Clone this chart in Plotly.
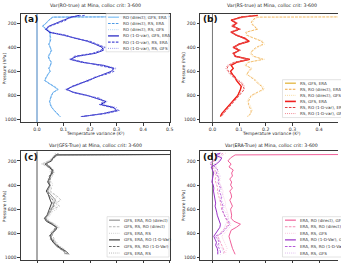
import plotly.graph_objects as go

W, H = 341, 263

# Pressure levels (hPa)
P = [135, 150, 175, 200, 225, 250, 275, 300, 325, 350, 375, 400, 425, 450, 475, 500,
     525, 550, 575, 600, 625, 650, 675, 700, 725, 750, 775, 800, 825, 850, 875, 900,
     925, 950, 975]

# ---- Panel (a): Var(RO-true)
a_dir_gfs_era = [1.4, 0.058, 0.044, 0.033, 0.022, 0.036, 0.049, 0.05, 0.05, 0.049, 0.046, 0.051, 0.053, 0.05, 0.044, 0.047, 0.053, 0.051, 0.046, 0.049, 0.041, 0.035, 0.03, 0.046, 0.064, 0.078, 0.061, 0.054, 0.051, 0.048, 0.051, 0.055, 0.065, 0.075, 0.086]
a_dir_rs_era = [1.5, 0.06, 0.045, 0.035, 0.02, 0.035, 0.05, 0.048, 0.052, 0.05, 0.044, 0.05, 0.055, 0.049, 0.042, 0.046, 0.055, 0.05, 0.044, 0.05, 0.04, 0.034, 0.028, 0.045, 0.066, 0.08, 0.06, 0.055, 0.05, 0.047, 0.05, 0.056, 0.066, 0.077, 0.088]
a_dir_rs_gfs = [1.3, 0.062, 0.046, 0.036, 0.024, 0.034, 0.051, 0.047, 0.053, 0.051, 0.045, 0.049, 0.056, 0.048, 0.043, 0.045, 0.054, 0.049, 0.045, 0.051, 0.039, 0.036, 0.029, 0.044, 0.065, 0.079, 0.059, 0.056, 0.049, 0.046, 0.052, 0.057, 0.064, 0.076, 0.087]
a_1dv_gfs_era = [0.16, 0.13, 0.1, 0.07, 0.045, 0.035, 0.045, 0.1, 0.15, 0.19, 0.22, 0.245, 0.25, 0.22, 0.15, 0.125, 0.17, 0.25, 0.29, 0.28, 0.25, 0.22, 0.19, 0.165, 0.135, 0.11, 0.14, 0.19, 0.23, 0.26, 0.24, 0.29, 0.3, 0.25, 0.17]
a_1dv_rs_era = [0.18, 0.12, 0.11, 0.08, 0.05, 0.03, 0.05, 0.11, 0.14, 0.2, 0.23, 0.255, 0.24, 0.21, 0.14, 0.13, 0.18, 0.24, 0.285, 0.29, 0.26, 0.215, 0.2, 0.16, 0.13, 0.115, 0.135, 0.185, 0.24, 0.25, 0.235, 0.28, 0.31, 0.26, 0.165]
a_1dv_rs_gfs = [0.15, 0.14, 0.095, 0.075, 0.04, 0.04, 0.055, 0.095, 0.155, 0.185, 0.225, 0.26, 0.245, 0.215, 0.16, 0.12, 0.165, 0.255, 0.3, 0.275, 0.245, 0.225, 0.185, 0.17, 0.14, 0.105, 0.145, 0.195, 0.225, 0.265, 0.25, 0.3, 0.295, 0.245, 0.175]

# ---- Panel (b): Var(RS-true)
b_gfs_era = [0.17, 0.11, 0.07, 0.09, 0.077, 0.1, 0.07, 0.09, 0.12, 0.138, 0.1, 0.078, 0.1, 0.08, 0.085, 0.14, 0.09, 0.07, 0.078, 0.068, 0.075, 0.085, 0.09, 0.1, 0.108, 0.105, 0.1, 0.095, 0.085, 0.075, 0.065, 0.055, 0.045, 0.035, 0.03]
b_dir_rs_era = [2.5, 0.165, 0.15, 0.145, 0.155, 0.17, 0.125, 0.13, 0.155, 0.185, 0.19, 0.165, 0.15, 0.145, 0.155, 0.19, 0.135, 0.125, 0.145, 0.135, 0.13, 0.145, 0.16, 0.17, 0.185, 0.19, 0.165, 0.145, 0.14, 0.135, 0.135, 0.14, 0.145, 0.145, 0.13]
b_dir_rs_gfs = [3.0, 0.17, 0.155, 0.15, 0.16, 0.165, 0.13, 0.125, 0.16, 0.19, 0.195, 0.17, 0.155, 0.14, 0.15, 0.195, 0.13, 0.12, 0.15, 0.14, 0.125, 0.15, 0.165, 0.175, 0.19, 0.195, 0.17, 0.15, 0.135, 0.13, 0.14, 0.145, 0.15, 0.14, 0.135]
b_1dv_rs_era = [0.16, 0.1, 0.08, 0.085, 0.07, 0.105, 0.075, 0.085, 0.125, 0.13, 0.095, 0.085, 0.105, 0.075, 0.09, 0.13, 0.08, 0.06, 0.055, 0.06, 0.07, 0.08, 0.095, 0.11, 0.115, 0.12, 0.11, 0.1, 0.09, 0.08, 0.07, 0.06, 0.05, 0.04, 0.032]
b_1dv_rs_gfs = [0.15, 0.12, 0.075, 0.095, 0.08, 0.095, 0.065, 0.095, 0.115, 0.13, 0.105, 0.075, 0.095, 0.085, 0.08, 0.135, 0.085, 0.055, 0.05, 0.058, 0.065, 0.078, 0.1, 0.115, 0.12, 0.115, 0.105, 0.1, 0.092, 0.078, 0.068, 0.058, 0.05, 0.04, 0.035]

# ---- Panel (c): Var(GFS-True)
c_dir_era_ro = [2.0, 0.075, 0.06, 0.05, 0.035, 0.05, 0.055, 0.06, 0.05, 0.048, 0.042, 0.05, 0.045, 0.04, 0.05, 0.06, 0.07, 0.065, 0.06, 0.055, 0.05, 0.04, 0.032, 0.04, 0.06, 0.07, 0.065, 0.06, 0.055, 0.05, 0.065, 0.07, 0.085, 0.1, 0.11]
c_dir_rs_ro = [1.8, 0.08, 0.065, 0.04, 0.02, 0.04, 0.06, 0.065, 0.055, 0.05, 0.05, 0.045, 0.055, 0.05, 0.065, 0.08, 0.09, 0.07, 0.085, 0.06, 0.05, 0.045, 0.035, 0.045, 0.065, 0.08, 0.06, 0.05, 0.06, 0.065, 0.07, 0.08, 0.09, 0.1, 0.105]
c_dir_era_rs = [1.6, 0.07, 0.055, 0.045, 0.015, 0.05, 0.065, 0.05, 0.06, 0.04, 0.055, 0.06, 0.05, 0.045, 0.06, 0.075, 0.065, 0.08, 0.07, 0.075, 0.055, 0.05, 0.04, 0.05, 0.07, 0.085, 0.07, 0.055, 0.05, 0.06, 0.075, 0.08, 0.095, 0.1, 0.115]
c_1dv_era_ro = [2.0, 0.07, 0.06, 0.055, 0.03, 0.045, 0.058, 0.055, 0.05, 0.045, 0.04, 0.048, 0.04, 0.035, 0.042, 0.045, 0.05, 0.055, 0.05, 0.048, 0.042, 0.038, 0.028, 0.035, 0.055, 0.075, 0.07, 0.055, 0.05, 0.055, 0.06, 0.075, 0.09, 0.11, 0.12]
c_1dv_rs_ro = [0.08, 0.075, 0.065, 0.05, 0.035, 0.05, 0.06, 0.06, 0.045, 0.05, 0.045, 0.05, 0.04, 0.04, 0.045, 0.05, 0.06, 0.06, 0.065, 0.05, 0.045, 0.04, 0.03, 0.04, 0.06, 0.07, 0.065, 0.055, 0.045, 0.06, 0.065, 0.07, 0.085, 0.105, 0.115]
c_1dv_era_rs = [0.07, 0.065, 0.055, 0.05, 0.03, 0.045, 0.05, 0.05, 0.055, 0.045, 0.04, 0.045, 0.045, 0.038, 0.04, 0.055, 0.065, 0.06, 0.055, 0.05, 0.04, 0.04, 0.035, 0.045, 0.065, 0.075, 0.06, 0.06, 0.05, 0.06, 0.07, 0.08, 0.1, 0.11, 0.12]

# ---- Panel (d): Var(ERA-True)
d_dir_ro_gfs = [2.0, 0.085, 0.068, 0.058, 0.07, 0.062, 0.078, 0.072, 0.075, 0.065, 0.072, 0.068, 0.075, 0.065, 0.07, 0.072, 0.065, 0.07, 0.075, 0.068, 0.07, 0.072, 0.07, 0.08, 0.105, 0.09, 0.07, 0.065, 0.062, 0.065, 0.068, 0.07, 0.075, 0.08, 0.085]
d_dir_rs_ro = [0.04, 0.03, 0.02, 0.005, -0.005, 0.0, 0.01, 0.01, 0.015, 0.01, 0.012, 0.015, 0.02, 0.018, 0.022, 0.025, 0.028, 0.03, 0.032, 0.035, 0.04, 0.045, 0.05, 0.055, 0.06, 0.05, 0.04, 0.03, 0.02, 0.025, 0.03, 0.035, 0.04, 0.045, 0.04]
d_dir_rs_gfs = [0.05, 0.04, 0.03, 0.02, 0.01, 0.015, 0.02, 0.025, 0.02, 0.03, 0.025, 0.03, 0.035, 0.04, 0.038, 0.042, 0.045, 0.05, 0.048, 0.052, 0.055, 0.06, 0.058, 0.065, 0.07, 0.065, 0.055, 0.045, 0.035, 0.04, 0.045, 0.05, 0.055, 0.05, 0.05]
d_1dv_ro_gfs = [0.03, 0.01, 0.035, 0.028, 0.015, -0.005, 0.0, 0.005, 0.002, 0.0, -0.002, 0.003, 0.005, 0.004, 0.006, 0.008, 0.01, 0.012, 0.01, 0.014, 0.016, 0.018, 0.022, 0.025, 0.03, 0.028, 0.02, 0.012, 0.005, 0.01, 0.015, 0.012, 0.018, 0.02, 0.02]
d_1dv_rs_ro = [0.02, 0.025, 0.015, 0.0, -0.01, 0.01, 0.02, 0.015, 0.02, 0.025, 0.02, 0.025, 0.03, 0.025, 0.03, 0.035, 0.03, 0.035, 0.04, 0.035, 0.04, 0.045, 0.05, 0.06, 0.065, 0.055, 0.045, 0.035, 0.01, 0.02, 0.025, 0.02, 0.025, 0.03, 0.03]
d_1dv_rs_gfs = [0.035, 0.04, 0.02, 0.01, 0.005, 0.015, 0.01, 0.02, 0.03, 0.02, 0.025, 0.03, 0.035, 0.03, 0.04, 0.03, 0.035, 0.04, 0.045, 0.04, 0.05, 0.055, 0.06, 0.055, 0.05, 0.045, 0.04, 0.03, 0.02, 0.025, 0.03, 0.025, 0.035, 0.04, 0.045]

titles = ["Var(RO-true) at Mina, colloc crit: 3-600",
          "Var(RS-true) at Mina, colloc crit: 3-600",
          "Var(GFS-True) at Mina, colloc crit: 3-600",
          "Var(ERA-True) at Mina, colloc crit: 3-600"]
panel_labels = ["(a)", "(b)", "(c)", "(d)"]
x_tick_vals = [0.0, 0.1, 0.2, 0.3, 0.4, 0.5]
x_tick_text = ["0.0", "0.1", "0.2", "0.3", "0.4", "0.5"]
y_tick_vals = [200, 400, 600, 800, 1000]
y_tick_text = ["200", "400", "600", "800", "1000"]
x_title = "Temperature variance (K²)"
y_title = "Pressure (hPa)"

DASH = "2.6px,1.3px"
DOT = "0.9px,1.2px"

series = [
    # panel, label, values, color, dash, width
    (0, "RO (direct), GFS, ERA", a_dir_gfs_era, "#87c4f5", "solid", 1.0),
    (0, "RO (direct), RS, ERA", a_dir_rs_era, "#4f9be6", DASH, 0.9),
    (0, "RO (direct), RS, GFS", a_dir_rs_gfs, "#a8d2f5", DOT, 0.8),
    (0, "RO (1-D-var), GFS, ERA", a_1dv_gfs_era, "#1c1cc0", "solid", 1.0),
    (0, "RO (1-D-var), RS, ERA", a_1dv_rs_era, "#4b4bd6", DASH, 0.9),
    (0, "RO (1-D-var), RS, GFS", a_1dv_rs_gfs, "#8a8ae8", DOT, 0.8),
    (1, "RS, GFS, ERA", b_gfs_era, "#e0b030", "solid", 1.0),
    (1, "RS, RO (direct), ERA", b_dir_rs_era, "#f0a640", DASH, 0.8),
    (1, "RS, RO (direct), GFS", b_dir_rs_gfs, "#f6d592", DOT, 0.8),
    (1, "RS, GFS, ERA", b_gfs_era, "#f02020", "solid", 1.4),
    (1, "RS, RO (1-D-var), ERA", b_1dv_rs_era, "#e03c3c", DASH, 0.9),
    (1, "RS, RO (1-D-var), GFS", b_1dv_rs_gfs, "#ef7a86", DOT, 0.8),
    (2, "GFS, ERA, RO (direct)", c_dir_era_ro, "#8c8c8c", "solid", 0.9),
    (2, "GFS, RS, RO (direct)", c_dir_rs_ro, "#b4b4b4", DASH, 0.8),
    (2, "GFS, ERA, RS", c_dir_era_rs, "#c8c8c8", DOT, 0.8),
    (2, "GFS, ERA, RO (1-D-Var)", c_1dv_era_ro, "#3c3c3c", "solid", 1.0),
    (2, "GFS, RS, RO (1-D-Var)", c_1dv_rs_ro, "#6e6e6e", DASH, 0.9),
    (2, "GFS, ERA, RS", c_1dv_era_rs, "#b0b0b0", DOT, 0.8),
    (3, "ERA, RO (direct), GFS", d_dir_ro_gfs, "#f0609a", "solid", 1.0),
    (3, "ERA, RS, RO (direct)", d_dir_rs_ro, "#f48cb4", DASH, 0.8),
    (3, "ERA, RS, GFS", d_dir_rs_gfs, "#f8c0d8", DOT, 0.8),
    (3, "ERA, RO (1-D-Var), GFS", d_1dv_ro_gfs, "#9a32c8", "solid", 1.0),
    (3, "ERA, RS, RO (1-D-Var)", d_1dv_rs_ro, "#b45ad8", DASH, 0.9),
    (3, "ERA, RS, GFS", d_1dv_rs_gfs, "#dcb4ec", DOT, 0.8),
]

# ---- geometry (pixels)
ax_px = [  # left, right, top, bottom
    (21.0, 172.0, 13.7, 122.7),
    (201.7, 341.0, 13.7, 122.7),
    (21.0, 172.0, 152.0, 261.0),
    (201.7, 341.0, 152.0, 261.0),
]
x_ranges = [[-0.061, 0.503], [-0.047, 0.471], [-0.061, 0.503], [-0.047, 0.471]]
y_range = [1022, 121]
zero_colors = ["#3f7fc0", "#777777", "#555555", "#777777"]
title_cx = [96.5, 274.0, 96.5, 274.0]
title_y = [6.0, 6.0, 145.7, 145.7]
legend_geo = [  # box left, box top, box bottom, sample x0, x1, text x, first row y, row step
    (107.0, 13.8, 52.0, 109.0, 120.0, 122.0, 17.3, 6.25),
    (285.0, 80.0, 118.0, 287.5, 298.5, 301.0, 83.5, 6.1),
    (108.0, 217.5, 258.0, 110.0, 121.0, 123.0, 221.0, 6.6),
    (285.0, 217.5, 258.0, 287.5, 298.5, 300.5, 221.0, 6.6),
]

def fx(px):
    return px / W

def fy(py):
    return 1 - py / H

FONT = "DejaVu Sans"
fig = go.Figure()

for (pi, name, vals, col, dash, lw) in series:
    sfx = "" if pi == 0 else str(pi + 1)
    fig.add_trace(go.Scatter(x=vals, y=P[:len(vals)], mode="lines", name=name,
                             xaxis="x" + sfx, yaxis="y" + sfx,
                             line=dict(color=col, dash=dash, width=lw),
                             showlegend=False, hoverinfo="skip"))

layout = dict(width=W, height=H, margin=dict(l=0, r=0, t=0, b=0),
              paper_bgcolor="white", plot_bgcolor="white", showlegend=False,
              font=dict(family=FONT, size=4.6, color="#333"))
shapes = []
annotations = []
axcol = "#3a3a3a"
for i in range(4):
    l, r, t, b = ax_px[i]
    sfx = "" if i == 0 else str(i + 1)
    full = i in (0, 2)
    top_row = i in (0, 1)
    layout["xaxis" + sfx] = dict(domain=[fx(l), fx(r)], range=x_ranges[i], anchor="y" + sfx,
                                 showline=True, linecolor=axcol, linewidth=0.8, mirror=True,
                                 ticks="outside", ticklen=2.5, tickwidth=0.6, tickcolor=axcol,
                                 tickvals=x_tick_vals, ticktext=x_tick_text,
                                 showticklabels=top_row,
                                 tickfont=dict(size=4.6, color="#333"),
                                 showgrid=False, zeroline=False)
    layout["yaxis" + sfx] = dict(domain=[fy(b), fy(t)], range=y_range, anchor="x" + sfx,
                                 showline=True, linecolor=axcol, linewidth=0.8, mirror=full,
                                 ticks="outside", ticklen=2.5, tickwidth=0.6, tickcolor=axcol,
                                 tickvals=y_tick_vals, ticktext=y_tick_text,
                                 tickfont=dict(size=4.6, color="#333"),
                                 showgrid=False, zeroline=False)
    # zero line
    shapes.append(dict(type="line", xref="x" + sfx, yref="y" + sfx + " domain",
                       x0=0, x1=0, y0=0, y1=1, line=dict(color=zero_colors[i], width=1.0),
                       layer="below"))
    # titles
    annotations.append(dict(text=titles[i], x=fx(title_cx[i]), y=fy(title_y[i]), xref="paper", yref="paper",
                            xanchor="center", yanchor="middle", showarrow=False,
                            font=dict(size=4.7, color="#222")))
    annotations.append(dict(text="<b>" + panel_labels[i] + "</b>", x=fx(l + 1.0), y=fy(t), xref="paper", yref="paper",
                            xanchor="left", yanchor="top", showarrow=False, yshift=1.5,
                            font=dict(size=9, color="#111")))
    annotations.append(dict(text=y_title, x=fx(l - 16.5), y=fy((t + b) / 2), xref="paper", yref="paper",
                            xanchor="center", yanchor="middle", showarrow=False, textangle=-90,
                            font=dict(size=4.4, color="#333")))
    if top_row:
        annotations.append(dict(text=x_title, x=fx(title_cx[i]), y=fy(b + 11.5), xref="paper", yref="paper",
                                xanchor="center", yanchor="middle", showarrow=False,
                                font=dict(size=4.4, color="#333")))
    # legend
    bl, bt, bb, s0, s1, tx, ry, step = legend_geo[i]
    shapes.append(dict(type="rect", xref="paper", yref="paper", x0=fx(bl), x1=fx(r - 1.5) if full else fx(W + 20),
                       y0=fy(bb), y1=fy(bt), fillcolor="rgba(255,255,255,0.85)",
                       line=dict(color="#d0d0d0", width=0.6), layer="above"))
    k = 0
    for (pi, name, vals, col, dash, lw) in series:
        if pi != i:
            continue
        yy = ry + k * step
        shapes.append(dict(type="line", xref="paper", yref="paper", x0=fx(s0), x1=fx(s1),
                           y0=fy(yy), y1=fy(yy), line=dict(color=col, dash=dash, width=lw + 0.2),
                           layer="above"))
        annotations.append(dict(text=name, x=fx(tx), y=fy(yy), xref="paper", yref="paper",
                                xanchor="left", yanchor="middle", showarrow=False,
                                font=dict(size=4.1, color="#333")))
        k += 1

layout["shapes"] = shapes
layout["annotations"] = annotations
fig.update_layout(**layout)
fig.write_html("out.html")
